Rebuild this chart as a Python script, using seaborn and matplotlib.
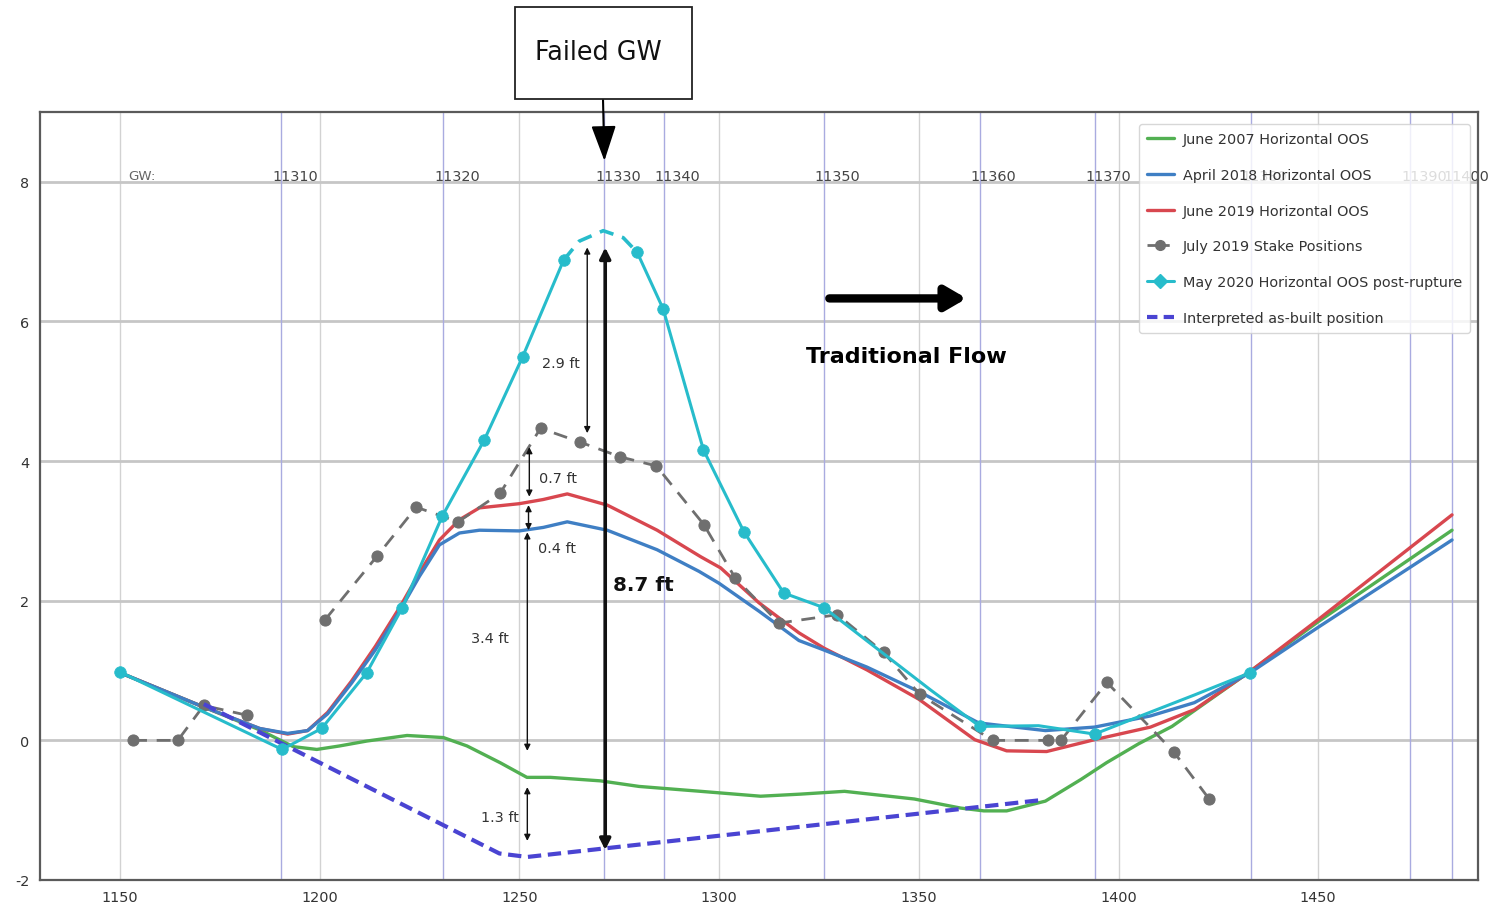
import matplotlib
matplotlib.use("Agg")
import matplotlib.pyplot as plt
import matplotlib.font_manager as fm
from matplotlib.lines import Line2D
from matplotlib.patches import Rectangle
import pandas as pd
import seaborn as sns

# ---------------- data ----------------
gw_labels = ["11310", "11320", "11330", "11340", "11350", "11360",
             "11370", "11380", "11390", "11400"]
gw_pos = [1190.4, 1231.0, 1271.3, 1286.1, 1326.2, 1365.3,
          1394.1, 1433.2, 1473.1, 1483.6]

x_ticks = [1150, 1200, 1250, 1300, 1350, 1400, 1450]
y_ticks = [-2, 0, 2, 4, 6, 8]

green_x = [1150, 1170, 1185, 1193.4, 1199.3, 1205, 1211.8, 1221.9, 1231, 1236.9,
           1245.2, 1251.9, 1257.8, 1270.3, 1280, 1295.4, 1310.4, 1320.4, 1331.4,
           1348.9, 1360.5, 1366.3, 1372, 1381.7, 1390.6, 1397, 1405, 1413.4, 1433,
           1450, 1483.5]
green_y = [0.97, 0.5, 0.15, -0.09, -0.13, -0.08, -0.01, 0.07, 0.04, -0.08,
           -0.32, -0.53, -0.53, -0.58, -0.66, -0.73, -0.8, -0.77, -0.73,
           -0.84, -0.97, -1.01, -1.01, -0.87, -0.56, -0.32, -0.05, 0.2, 0.99,
           1.7, 3.01]

blue_x = [1150, 1170, 1185, 1192, 1197, 1202, 1208, 1214, 1220, 1225, 1230, 1235,
          1240, 1250, 1256, 1262, 1272, 1284.5, 1295, 1300, 1310, 1320, 1326,
          1337, 1350, 1365, 1381.7, 1394, 1408, 1419, 1433, 1450, 1483.5]
blue_y = [0.97, 0.5, 0.17, 0.1, 0.14, 0.38, 0.82, 1.3, 1.85, 2.35, 2.8, 2.97,
          3.01, 3.0, 3.05, 3.13, 3.01, 2.73, 2.42, 2.25, 1.85, 1.43, 1.3,
          1.05, 0.7, 0.25, 0.14, 0.19, 0.35, 0.54, 0.97, 1.62, 2.87]

red_x = [1150, 1170, 1185, 1192, 1197, 1202, 1208, 1214, 1220, 1225, 1230, 1235,
         1240, 1250, 1256, 1262, 1272, 1284.5, 1295.4, 1300.4, 1310, 1320, 1326.3,
         1337, 1350, 1364, 1372, 1382, 1394, 1408, 1419, 1433, 1450, 1483.5]
red_y = [0.97, 0.5, 0.17, 0.09, 0.14, 0.4, 0.85, 1.35, 1.9, 2.4, 2.87, 3.16,
         3.33, 3.39, 3.45, 3.53, 3.37, 3.01, 2.63, 2.47, 1.97, 1.54, 1.32,
         1.01, 0.59, 0.01, -0.15, -0.16, 0.01, 0.19, 0.44, 0.99, 1.73, 3.23]

# stake positions: two runs (no line drawn between 1181.8 and 1201.4)
stake_a_x = [1153.3, 1164.5, 1171, 1181.8]
stake_a_y = [0.0, 0.0, 0.5, 0.36]
stake_b_x = [1201.4, 1214.4, 1224.2, 1234.7, 1245.2, 1255.3, 1265.3, 1275.3, 1284.3,
             1296.2, 1304.1, 1315, 1329.6, 1341.2, 1350.2, 1368.5, 1382.3, 1385.6,
             1397.1, 1413.9, 1422.7]
stake_b_y = [1.73, 2.64, 3.34, 3.13, 3.54, 4.47, 4.27, 4.06, 3.93,
             3.09, 2.32, 1.68, 1.8, 1.26, 0.66, 0.0, 0.0, 0.0,
             0.83, -0.17, -0.84]

may_line_x = [1150, 1190.6, 1200.5, 1211.8, 1220.7, 1230.7, 1241.2, 1250.8, 1261.1]
may_line_y = [0.98, -0.13, 0.17, 0.97, 1.9, 3.21, 4.3, 5.49, 6.88]
may_line2_x = [1279.5, 1286, 1296.1, 1306.2, 1316.2, 1326.3, 1341, 1353, 1365.3,
               1380, 1394, 1406, 1419, 1433]
may_line2_y = [6.99, 6.18, 4.16, 2.99, 2.11, 1.9, 1.25, 0.72, 0.2,
               0.21, 0.09, 0.36, 0.65, 0.97]
may_arc_x = [1261.1, 1265, 1271, 1276, 1279.5]
may_arc_y = [6.88, 7.15, 7.3, 7.2, 6.99]
may_mark_x = [1150, 1190.6, 1200.5, 1211.8, 1220.7, 1230.7, 1241.2, 1250.8, 1261.1,
              1279.5, 1286, 1296.1, 1306.2, 1316.2, 1326.3, 1365.3, 1394, 1433]
may_mark_y = [0.98, -0.13, 0.17, 0.97, 1.9, 3.21, 4.3, 5.49, 6.88,
              6.99, 6.18, 4.16, 2.99, 2.11, 1.9, 0.2, 0.09, 0.97]

asbuilt_x = [1171, 1245, 1252, 1381.5]
asbuilt_y = [0.52, -1.62, -1.67, -0.85]

series_labels = ["June 2007 Horizontal OOS", "April 2018 Horizontal OOS",
                 "June 2019 Horizontal OOS", "July 2019 Stake Positions",
                 "May 2020 Horizontal OOS post-rupture",
                 "Interpreted as-built position"]

dim_x = [1252.5, 1252.3, 1252.0, 1252.0, 1267.0]
dim_y0 = [4.2, 3.37, 2.98, -0.67, 7.06]
dim_y1 = [3.49, 3.01, -0.15, -1.44, 4.4]
dim_text = ["0.7 ft", "0.4 ft", "3.4 ft", "1.3 ft", "2.9 ft"]
dim_tx = [1259.8, 1259.5, 1242.7, 1245.2, 1260.5]
dim_ty = [3.76, 2.76, 1.47, -1.1, 5.41]

# ---------------- style ----------------
sns.set_style("white")
names = {f.name for f in fm.fontManager.ttflist}
if "Liberation Sans Narrow" in names:
    FONT, K = "Liberation Sans Narrow", 1.0
else:
    FONT, K = "DejaVu Sans", 0.8
plt.rcParams["font.family"] = [FONT, "DejaVu Sans"]
plt.rcParams["axes.unicode_minus"] = False

C_GREEN = "#52b052"
C_BLUE = "#3f7fc4"
C_RED = "#d8474f"
C_GRAY = "#6f6f6f"
C_CYAN = "#27bccb"
C_ASB = "#4a44d2"
TXT = "#333333"

fig = plt.figure(figsize=(14.89, 9.2), dpi=100)
ax = fig.add_axes([40 / 1489, 39 / 920, 1438 / 1489, 768 / 920])
ax.set_xlim(1130, 1490)
ax.set_ylim(-2, 9)

ax.set_xticks(x_ticks)
ax.set_yticks(y_ticks)
ax.xaxis.grid(True, color="#d2d2d2", lw=1.0, zorder=0)
ax.yaxis.grid(True, color="#c6c6c6", lw=2.0, zorder=0)
ax.set_axisbelow(True)
ax.tick_params(axis="both", labelsize=13 * K, colors=TXT, length=4, width=1,
               direction="out")
for s in ax.spines.values():
    s.set_color("#5a5a5a")
    s.set_linewidth(1.6)

# GW reference lines and labels
for xp, lab in zip(gw_pos, gw_labels):
    ax.axvline(xp, color="#a9abe0", lw=1.0, zorder=0.6)
    ax.text(xp - 2.3, 8.09, lab, ha="left", va="center", fontsize=13 * K,
            color="#444444", zorder=1, clip_on=False)
ax.text(1152, 8.09, "GW:", ha="left", va="center", fontsize=12 * K,
        color="#666666", zorder=1)

# ---------------- series ----------------
def line(xs, ys, **kw):
    df = pd.DataFrame({"x": xs, "y": ys})
    sns.lineplot(data=df, x="x", y="y", ax=ax, sort=False, estimator=None, **kw)
    return ax.lines[-1]

h_green = line(green_x, green_y, color=C_GREEN, lw=2.4, zorder=3)
h_blue = line(blue_x, blue_y, color=C_BLUE, lw=2.4, zorder=3.2)
h_red = line(red_x, red_y, color=C_RED, lw=2.4, zorder=3.1)
for sx, sy in ((stake_a_x, stake_a_y), (stake_b_x, stake_b_y)):
    hs = line(sx, sy, color=C_GRAY, lw=2.0, marker="o", markersize=8,
              markeredgecolor=C_GRAY, zorder=3.5)
    hs.set_linestyle((0, (5, 3.5)))
line(may_line_x, may_line_y, color=C_CYAN, lw=2.2, zorder=4)
line(may_line2_x, may_line2_y, color=C_CYAN, lw=2.2, zorder=4)
arc = line(may_arc_x, may_arc_y, color=C_CYAN, lw=2.6, zorder=4)
arc.set_linestyle((0, (4, 2.5)))
sns.scatterplot(x=may_mark_x, y=may_mark_y, ax=ax, color=C_CYAN, s=70,
                edgecolor=C_CYAN, linewidth=0.5, zorder=4.5, legend=False)
h_asb = line(asbuilt_x, asbuilt_y, color=C_ASB, lw=3.0, zorder=3.8)
h_asb.set_linestyle((0, (3.2, 1.6)))

h_may = Line2D([], [], color=C_CYAN, lw=2.2, marker="D", markersize=7)
h_stake_leg = Line2D([], [], color=C_GRAY, lw=2.0, marker="o", markersize=7,
                     linestyle=(0, (3, 2)))
h_asb_leg = Line2D([], [], color=C_ASB, lw=3.0, linestyle=(0, (2.5, 1.5)))

ax.set_xlabel("")
ax.set_ylabel("")

leg = ax.legend([h_green, h_blue, h_red, h_stake_leg, h_may, h_asb_leg], series_labels,
                loc="upper right", bbox_to_anchor=(0.9944, 0.984), borderaxespad=0,
                fontsize=13 * K, labelspacing=1.5, handlelength=1.9,
                handletextpad=0.6, borderpad=0.55, framealpha=0.82,
                edgecolor="#cfcfcf", fancybox=True)
for t in leg.get_texts():
    t.set_color(TXT)
leg.set_zorder(10)

# ---------------- annotations ----------------
for x, y0, y1, t, tx, ty in zip(dim_x, dim_y0, dim_y1, dim_text, dim_tx, dim_ty):
    ax.annotate("", xy=(x, y1), xytext=(x, y0),
                arrowprops=dict(arrowstyle="<|-|>", color="#111111", lw=1.0,
                                mutation_scale=9, shrinkA=0, shrinkB=0), zorder=6)
    ax.text(tx, ty, t, ha="center", va="center", fontsize=13 * K, color=TXT, zorder=6)

# 8.7 ft main dimension
ax.annotate("", xy=(1271.5, 7.06), xytext=(1271.5, -1.57),
            arrowprops=dict(arrowstyle="<|-|>", color="#111111", lw=2.6,
                            mutation_scale=16, shrinkA=0, shrinkB=0), zorder=6)
ax.text(1281.0, 2.23, "8.7 ft", ha="center", va="center", fontsize=18 * K,
        fontweight="bold", color="#111111", zorder=6)

# Traditional flow
ax.annotate("", xy=(1362, 6.33), xytext=(1327.6, 6.33),
            arrowprops=dict(arrowstyle="-|>,head_length=0.55,head_width=0.32",
                            color="black", lw=6, mutation_scale=22,
                            shrinkA=0, shrinkB=0), zorder=6)
ax.text(1347, 5.5, "Traditional Flow", ha="center", va="center",
        fontsize=20 * K, fontweight="bold", color="black", zorder=6)

# Failed GW box (outside the axes, above)
fig.add_artist(Rectangle((515 / 1489, (920 - 100) / 920), 177 / 1489, 92 / 920,
                         transform=fig.transFigure, facecolor="white",
                         edgecolor="#222222", lw=1.3, zorder=7))
fig.text(598 / 1489, (920 - 53) / 920, "Failed GW", ha="center", va="center",
         fontsize=23 * K, color="#111111", zorder=8)
ax.annotate("", xy=(1271.3, 8.3), xycoords="data",
            xytext=(603, 820), textcoords="figure pixels",
            arrowprops=dict(arrowstyle="-|>,head_length=1.0,head_width=0.35",
                            color="black", lw=1.5, mutation_scale=22,
                            shrinkA=0, shrinkB=0),
            zorder=7, annotation_clip=False)

fig.savefig("out.png", dpi=100)
